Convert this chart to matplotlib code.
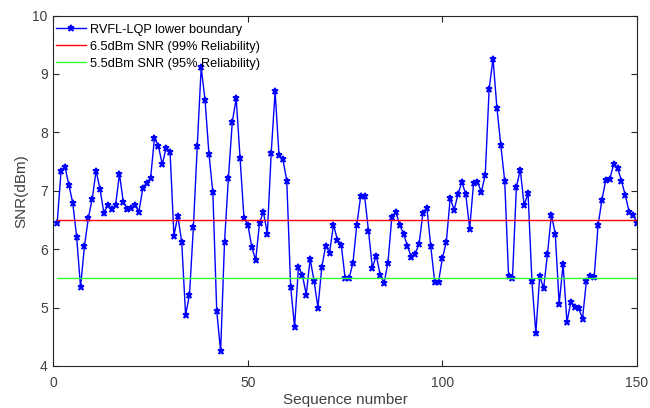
import numpy as np
import matplotlib
matplotlib.use("Agg")
import matplotlib.pyplot as plt

plt.rcParams['font.family'] = ['Liberation Sans', 'DejaVu Sans']

# RVFL-LQP lower boundary, sequence 1..150
snr = [6.45, 7.34, 7.41, 7.10, 6.79, 6.21, 5.35, 6.05, 6.53, 6.86,
       7.34, 7.03, 6.62, 6.75, 6.69, 6.75, 7.29, 6.80, 6.69, 6.71,
       6.75, 6.64, 7.04, 7.13, 7.21, 7.91, 7.77, 7.45, 7.73, 7.67,
       6.23, 6.57, 6.12, 4.87, 5.22, 6.38, 7.77, 9.11, 8.55, 7.63,
       6.97, 4.94, 4.25, 6.12, 7.22, 8.18, 8.58, 7.56, 6.53, 6.42,
       6.04, 5.81, 6.45, 6.64, 6.26, 7.65, 8.70, 7.61, 7.54, 7.17,
       5.35, 4.67, 5.69, 5.56, 5.22, 5.83, 5.46, 5.00, 5.69, 6.06,
       5.94, 6.42, 6.16, 6.07, 5.50, 5.50, 5.76, 6.42, 6.91, 6.91,
       6.31, 5.68, 5.89, 5.56, 5.42, 5.77, 6.55, 6.64, 6.42, 6.26,
       6.06, 5.86, 5.92, 6.09, 6.62, 6.71, 6.05, 5.44, 5.44, 5.85,
       6.12, 6.88, 6.67, 6.94, 7.15, 6.94, 6.35, 7.13, 7.15, 6.98,
       7.27, 8.74, 9.26, 8.42, 7.78, 7.17, 5.54, 5.50, 7.06, 7.36,
       6.75, 6.96, 5.45, 4.56, 5.54, 5.33, 5.92, 6.59, 6.26, 5.06,
       5.74, 4.75, 5.10, 5.01, 4.99, 4.81, 5.46, 5.54, 5.53, 6.41,
       6.85, 7.19, 7.20, 7.45, 7.39, 7.17, 6.92, 6.63, 6.59, 6.44]
seq = np.arange(1, len(snr) + 1)
thr99 = 6.5
thr95 = 5.5

fig = plt.figure(figsize=(6.5, 4.08), dpi=100)
ax = fig.add_axes([0.082, 0.103, 0.898, 0.859])

ax.plot(seq, snr, '-*', color='#0000ff', lw=1.0, ms=5, mew=1.2,
        label='RVFL-LQP lower boundary')
ax.plot(seq, np.full(len(seq), thr99), color='#ff0000', lw=1.0,
        label='6.5dBm SNR (99% Reliability)')
ax.plot(seq, np.full(len(seq), thr95), color='#33ff33', lw=1.0,
        label='5.5dBm SNR (95% Reliability)')

ax.set_xlim(0, 150)
ax.set_ylim(4, 10)
ax.set_xticks([0, 50, 100, 150])
ax.set_yticks(range(4, 11))
ax.tick_params(direction='in', top=True, right=True, length=4,
               labelsize=10, colors='#262626', labelcolor='#404040', width=0.8)
ax.tick_params(axis='x', pad=7.5)
ax.tick_params(axis='y', pad=4)
for sp in ax.spines.values():
    sp.set_color('#262626')
    sp.set_linewidth(0.8)
ax.set_xlabel('Sequence number', fontsize=11, color='#404040', labelpad=2)
ax.set_ylabel('SNR(dBm)', fontsize=11, color='#404040', labelpad=3)

ax.legend(loc='upper left', bbox_to_anchor=(0.0, 0.985), frameon=False,
          fontsize=9.2, handlelength=2.3, handletextpad=0.35,
          borderaxespad=0.0, borderpad=0.25, labelspacing=0.38)

fig.savefig('out.png', dpi=100)
